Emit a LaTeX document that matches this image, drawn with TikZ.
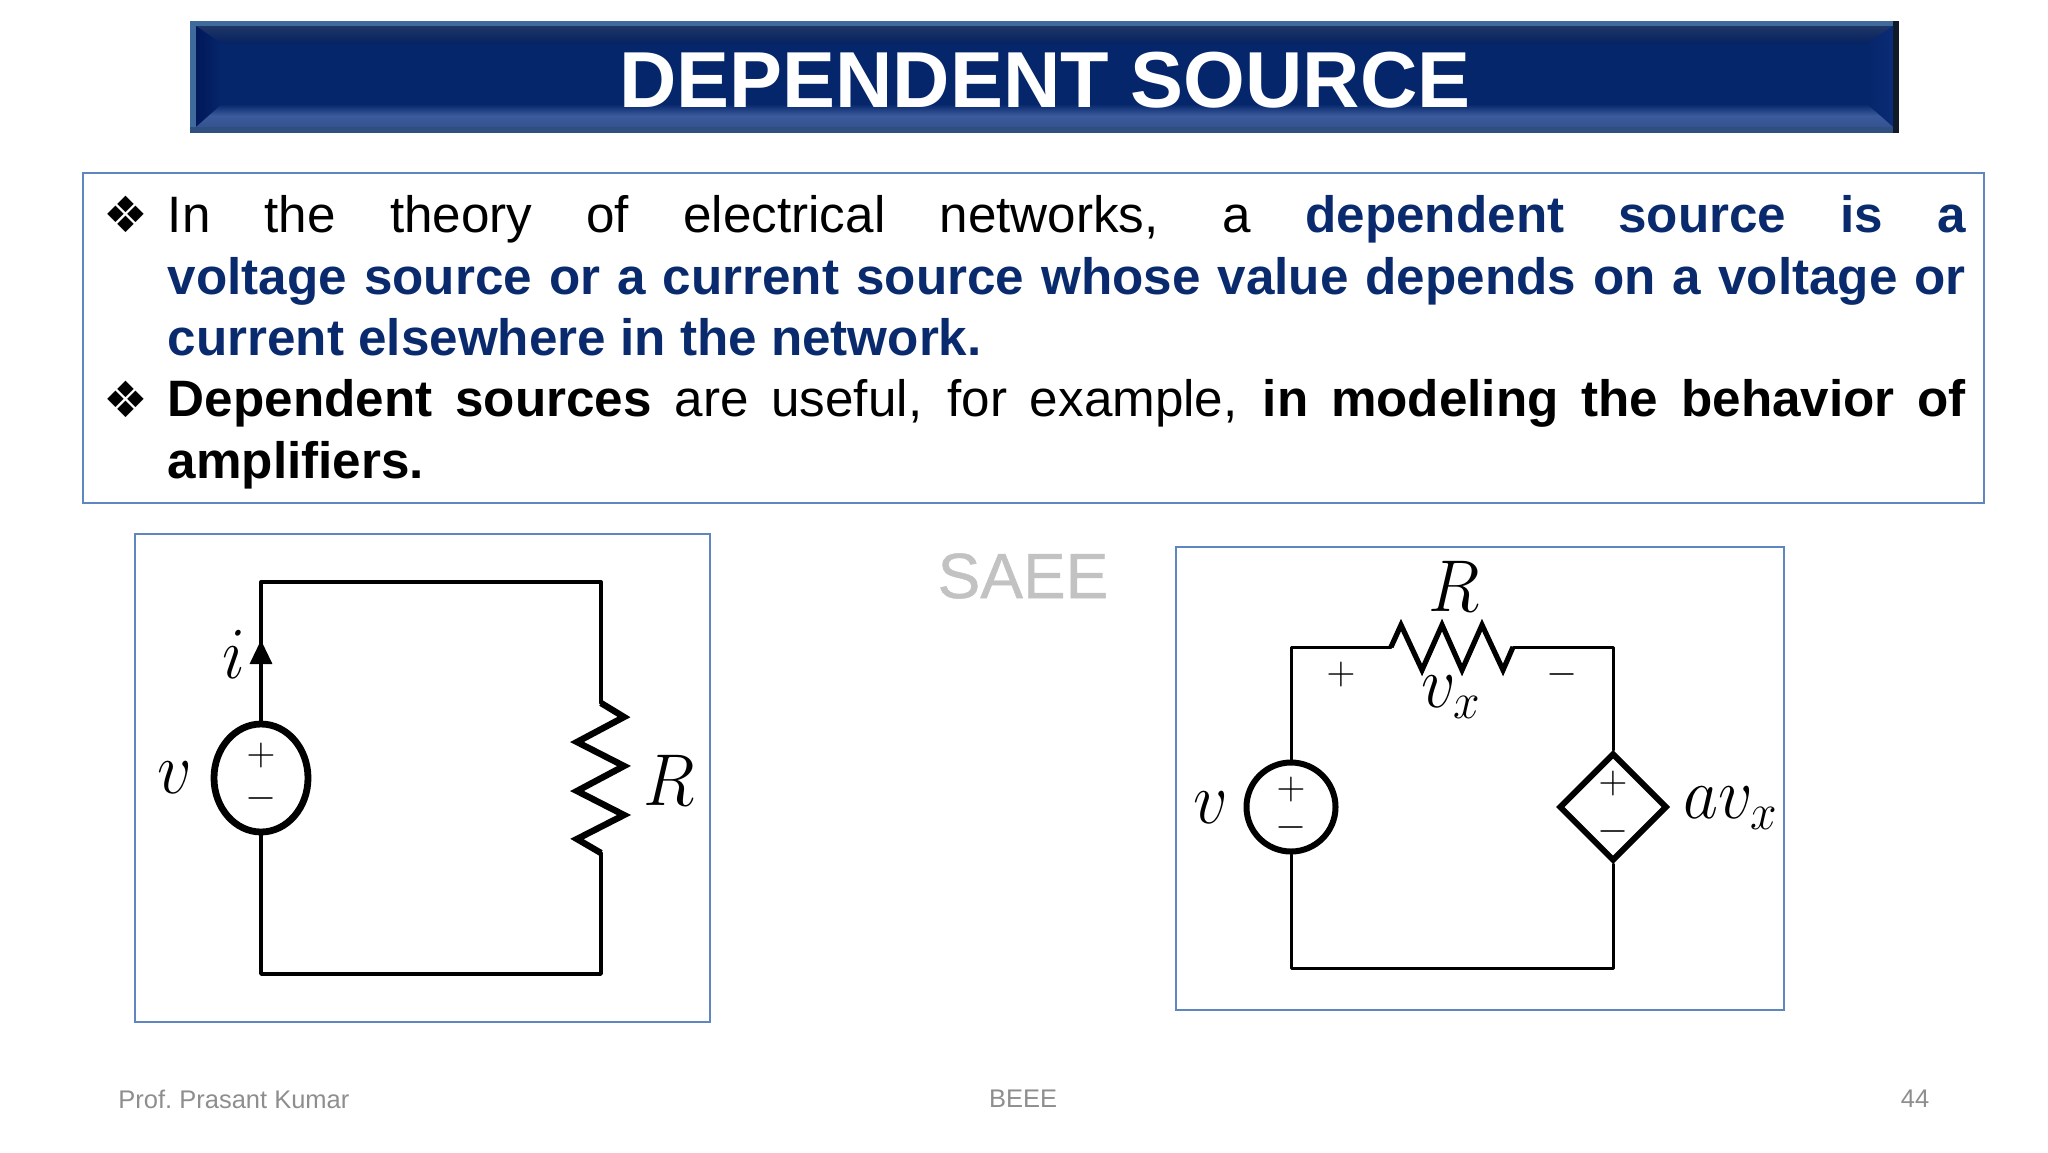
\RequirePackage{fix-cm}
\documentclass[tikz,border=0pt]{standalone}
\usepackage{fontspec}
\setmainfont{Liberation Sans}
\newfontfamily\symfont{DejaVu Sans}
\newfontfamily\wmfont[FakeBold=0.7]{Liberation Sans}
\usetikzlibrary{shapes.geometric,arrows.meta}
\definecolor{navy}{HTML}{06266B}
\definecolor{navytext}{HTML}{0A2A6E}
\definecolor{framecol}{HTML}{5F86BE}
\definecolor{footcol}{HTML}{8E8E8E}
\definecolor{bevtop}{HTML}{1F3566}
\definecolor{bevbot}{HTML}{3A5A9C}
\definecolor{bevleft}{HTML}{00195A}
\definecolor{bevright}{HTML}{0A2C76}
\definecolor{rimtop}{HTML}{3F6A9C}
\definecolor{rimbot}{HTML}{2F4F80}
\newcommand{\tallscale}[1]{\scalebox{1}[1.08]{#1}}
\tikzset{
  frame/.style={draw=framecol,line width=1pt,fill=none},
  wire/.style={draw=black,line width=1.7pt,line cap=round,line join=round},
  thick res/.style={draw=black,line width=3.2pt,line join=miter},
  sym/.style={inner sep=0pt,font=\fontsize{20}{24}\selectfont},
  lab/.style={inner sep=0pt,font=\fontsize{34}{38}\selectfont},
  foot/.style={inner sep=0pt,text=footcol,font=\frenchspacing\fontsize{12.75}{15}\selectfont},
  para/.style={inner sep=0pt,anchor=north west,text width=899pt,align=justify,
    font=\fontsize{25.6}{30.75}\selectfont},
  bullet/.style={inner sep=0pt,font=\symfont\fontsize{25}{28}\selectfont},
}
\begin{document}
\begin{tikzpicture}[x=0.5pt,y=-0.5pt]
\useasboundingbox (0,0) rectangle (2048,1152);
% banner
\fill[rimtop] (190,21) rectangle (1899,133);
\fill[rimbot] (190,127) rectangle (1899,133);
\fill[black!75!rimtop] (1893,21) rectangle (1899,133);
\fill[navy] (196,26) rectangle (1893,127);
\shade[top color=bevtop,bottom color=navy!90!black] (196,26) -- (1893,26) -- (1875,44) -- (214,44) -- cycle;
\shade[left color=bevleft,right color=navy] (196,26) -- (222,44) -- (222,104) -- (196,127) -- cycle;
\shade[right color=bevright,left color=navy] (1893,26) -- (1867,44) -- (1867,104) -- (1893,127) -- cycle;
\shade[top color=navy,bottom color=bevbot!92!black,middle color=bevbot] (222,104) -- (1867,104) -- (1893,127) -- (196,127) -- cycle;
\node[inner sep=0pt,text=white,font=\fontsize{39.7}{44}\selectfont\bfseries] (title) at (1045,80) {DEPENDENT SOURCE};
% text box
\node[frame,minimum width=950.5pt,minimum height=165pt,inner sep=0pt,anchor=north west] (textbox) at (82,172) {};
\node[bullet] (b1) at (126,214) {❖};
\node[bullet] (b2) at (126,399) {❖};
\node[para] (p1) at (167.5,195) {In the theory of electrical networks, a {\bfseries\color{navytext}dependent source is a\linebreak voltage source or a current source whose value depends on a voltage or\linebreak current elsewhere in the network.}};
\node[para] (p2) at (167.5,379) {{\bfseries Dependent sources} are useful, for example, {\bfseries in modeling the behavior of\linebreak amplifiers.}};
% left circuit
\node[frame,minimum width=287.5pt,minimum height=244pt,inner sep=0pt,anchor=north west] (boxa) at (134,533) {};
\coordinate (a1) at (261,582);
\coordinate (a2) at (601,582);
\coordinate (a3) at (601,974);
\coordinate (a4) at (261,974);
\coordinate (aRt) at (601,703);
\coordinate (aRb) at (601,853);
\coordinate (atip) at (261,640);
\node[ellipse,draw=black,line width=3.4pt,minimum width=47pt,minimum height=54pt,inner sep=0pt] (sa) at (261,778) {};
\draw[wire] (sa.north) -- (a1) -- (a2) -- (aRt);
\draw[wire] (aRb) -- (a3) -- (a4) -- (sa.south);
\draw[thick res] (aRt) -- (624,717) -- (577,742) -- (624,766) -- (577,791) -- (624,815) -- (577,839) -- (aRb);
\draw[wire,-{Triangle[length=12pt,width=11pt]}] (sa.north) -- (atip);
\node[lab] (ai) at (234,654) {\tallscale{$i$}};
\node[lab] (av) at (175,778) {\tallscale{$v$}};
\node[lab] (aR) at (669,780) {\tallscale{$R$}};
\node[sym] (ap) at (261,755) {$+$};
\node[sym] (am) at (261,798) {$-$};
% watermark
\node[inner sep=0pt,text=black!24,font=\wmfont\fontsize{32}{36}\selectfont] (wm) at (1023,576) {SAEE};
% right circuit
\node[frame,minimum width=304pt,minimum height=231.5pt,inner sep=0pt,anchor=north west] (boxb) at (1175,546) {};
\coordinate (b1c) at (1291,647);
\coordinate (b2c) at (1613,647);
\coordinate (b3c) at (1613,968);
\coordinate (b4c) at (1291,968);
\coordinate (bRl) at (1391,647);
\coordinate (bRr) at (1513,647);
\node[circle,draw=black,line width=3pt,minimum size=44.5pt,inner sep=0pt] (sb) at (1291,807) {};
\node[diamond,draw=black,line width=3pt,minimum width=54pt,minimum height=54pt,inner sep=0pt,aspect=1] (db) at (1613,807) {};
\draw[wire,line width=1.5pt] (sb.north) -- (b1c) -- (bRl);
\draw[wire,line width=1.5pt] (bRr) -- (b2c) -- (db.north);
\draw[wire,line width=1.5pt] (db.south) -- (b3c) -- (b4c) -- (sb.south);
\draw[thick res,line width=2.6pt] (bRl) -- (1401,625) -- (1422,670) -- (1442,625) -- (1462,670) -- (1482,625) -- (1503,670) -- (bRr);
\node[lab] (bR) at (1454,586) {\tallscale{$R$}};
\node[lab] (bvx) at (1451,697) {\tallscale{$v_x$}};
\node[sym] (bp1) at (1341,674) {$+$};
\node[sym] (bm1) at (1562,674) {$-$};
\node[lab] (bv) at (1211,808) {\tallscale{$v$}};
\node[sym] (bp2) at (1291,789) {$+$};
\node[sym] (bm2) at (1291,827) {$-$};
\node[sym] (bp3) at (1613,783) {$+$};
\node[sym] (bm3) at (1613,831) {$-$};
\node[lab] (bavx) at (1731,808) {\tallscale{$av_x$}};
% footer
\node[foot,anchor=west] (f1) at (118,1099) {Prof. Prasant Kumar};
\node[foot] (f2) at (1023,1099) {BEEE};
\node[foot] (f3) at (1915,1099) {44};
\end{tikzpicture}
\end{document}
